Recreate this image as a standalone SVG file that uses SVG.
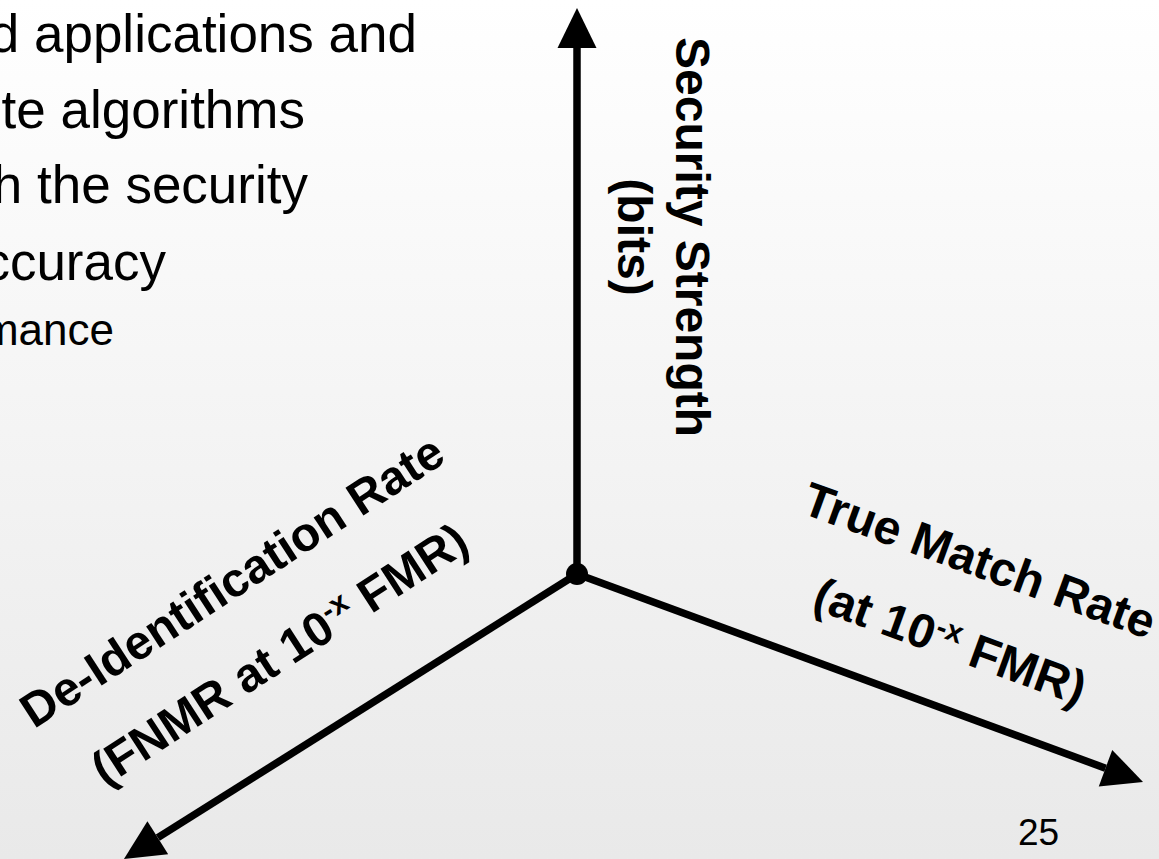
<svg xmlns="http://www.w3.org/2000/svg" width="1159" height="859" viewBox="0 0 1159 859">
  <defs>
    <linearGradient id="bg" x1="0" y1="0" x2="0" y2="1">
      <stop offset="0" stop-color="#ffffff"/>
      <stop offset="1" stop-color="#e9e9e9"/>
    </linearGradient>
    <marker id="arrow" markerUnits="userSpaceOnUse" viewBox="0 -20 40 40" refX="0" refY="0" markerWidth="40" markerHeight="40" orient="auto" overflow="visible">
      <path d="M0,-19.5 L40,0 L0,19.5 Z" fill="#000"/>
    </marker>
    <style>
      .body { font-family: "Liberation Sans", Arial, sans-serif; fill: #000; }
      .main { font-size: 53px; }
      .sub { font-size: 44px; }
      .axis { font-family: "Liberation Sans", Arial, sans-serif; font-weight: bold; font-size: 48px; fill: #000; text-anchor: middle; }
      .sup { font-size: 30px; }
      .axisline { stroke: #000; stroke-width: 7.5; fill: none; marker-end: url(#arrow); }
      .page { font-family: "Liberation Sans", Arial, sans-serif; font-size: 37px; fill: #000; }
    </style>
  </defs>
  <rect x="0" y="0" width="1159" height="859" fill="url(#bg)"/>

  <g id="bullets" class="body">
    <text class="main" x="417" y="52" text-anchor="end">d applications and</text>
    <text class="main" x="305" y="128" text-anchor="end">te algorithms</text>
    <text class="main" x="308" y="203" text-anchor="end">h the security</text>
    <text class="main" x="166" y="280" text-anchor="end">ccuracy</text>
    <text class="sub" x="114" y="345" text-anchor="end">mance</text>
  </g>

  <g id="connectors">
    <line class="axisline" x1="577" y1="574" x2="577" y2="48"/>
    <line class="axisline" x1="577" y1="574" x2="1105.5" y2="768.2"/>
    <line class="axisline" x1="577" y1="574" x2="157.8" y2="837.7"/>
  </g>

  <g id="origin">
    <circle cx="577" cy="574" r="11" fill="#000"/>
  </g>

  <g id="security-label" transform="translate(676,237) rotate(90)">
    <text class="axis" x="0" y="0">Security Strength</text>
    <text class="axis" x="0" y="58">(bits)</text>
  </g>

  <g id="true-match-label" transform="translate(974,576) rotate(20)">
    <text class="axis" x="0" y="0">True Match Rate</text>
    <text class="axis" x="0" y="86">(at 10<tspan class="sup" dy="-17">-x</tspan><tspan dy="17"> FMR)</tspan></text>
  </g>

  <g id="deid-label" transform="translate(241,595) rotate(-33)">
    <text class="axis" x="0" y="0">De-Identification Rate</text>
    <text class="axis" x="0" y="87">(FNMR at 10<tspan class="sup" dy="-17">-x</tspan><tspan dy="17"> FMR)</tspan></text>
  </g>

  <g id="page-number">
    <text class="page" x="1018" y="845">25</text>
  </g>
</svg>
